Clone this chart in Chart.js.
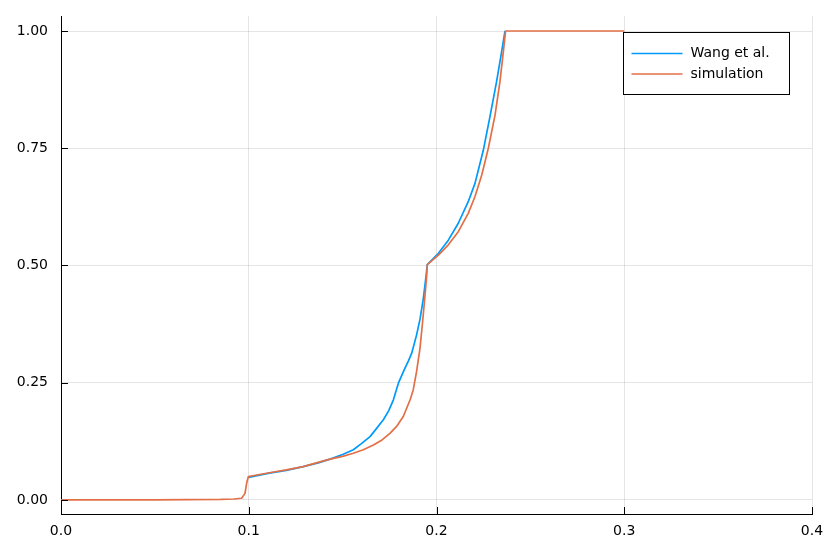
<!DOCTYPE html>
<html>
<head>
<meta charset="utf-8">
<script src="https://cdn.jsdelivr.net/npm/chart.js@4"></script>
<style>
  html,body{margin:0;padding:0;background:#fff;}
  #wrap{width:830px;height:554px;position:relative;}
</style>
</head>
<body>
<div id="wrap"><canvas id="c"></canvas></div>
<script>
// ---------- DATA ----------
const seriesNames = ['Wang et al.', 'simulation'];
const seriesColors = ['#009AFA', '#E36F47'];

const wangX = [0.0998, 0.111, 0.12, 0.129, 0.137, 0.1433, 0.15, 0.1557, 0.16, 0.1646, 0.168, 0.1717, 0.1745, 0.177,
  0.1797, 0.1832, 0.185, 0.1868, 0.1894, 0.1912, 0.193, 0.1943, 0.1951,
  0.201, 0.2063, 0.2116, 0.2169, 0.2205, 0.2249, 0.2285, 0.232, 0.2347, 0.2365];
const wangY = [0.048, 0.057, 0.063, 0.071, 0.079, 0.087, 0.097, 0.107, 0.12, 0.135, 0.152, 0.171, 0.19, 0.213,
  0.249, 0.281, 0.296, 0.313, 0.352, 0.385, 0.43, 0.473, 0.502,
  0.526, 0.554, 0.59, 0.636, 0.675, 0.745, 0.818, 0.892, 0.956, 1.0];

const simX = [0, 0.05, 0.085, 0.092, 0.0962, 0.098, 0.0989, 0.0998, 0.111, 0.12, 0.129, 0.136, 0.1433, 0.15, 0.1557,
  0.161, 0.1664, 0.171, 0.1752, 0.179, 0.1823, 0.1859, 0.1876, 0.1894, 0.1912, 0.1926, 0.1939, 0.1948, 0.1951,
  0.201, 0.2063, 0.2116, 0.2169, 0.2205, 0.2241, 0.2276, 0.2312, 0.2338, 0.2356, 0.2368, 0.3];
const simY = [0, 0, 0.001, 0.002, 0.0036, 0.014, 0.036, 0.05, 0.058, 0.064, 0.071, 0.079, 0.087, 0.093, 0.0995,
  0.107, 0.117, 0.128, 0.142, 0.158, 0.178, 0.213, 0.2345, 0.274, 0.323, 0.38, 0.437, 0.48, 0.502,
  0.522, 0.544, 0.572, 0.611, 0.647, 0.693, 0.75, 0.821, 0.892, 0.956, 1.0, 1.0];

const xTicks = [0, 0.1, 0.2, 0.3, 0.4];
const yTicks = [0, 0.25, 0.5, 0.75, 1.0];

const FONT = 'DejaVu Sans';

const toPts = (xs, ys) => xs.map((x, i) => ({x: x, y: ys[i]}));

// inward tick marks + legend box (Plots.jl look)
const decor = {
  id: 'decor',
  afterDraw(chart){
    const {ctx, chartArea: a, scales: {x, y}} = chart;
    ctx.save();
    ctx.strokeStyle = '#000';
    ctx.lineWidth = 1;
    ctx.beginPath();
    yTicks.forEach(v => { const p = Math.round(y.getPixelForValue(v)) + 0.5; ctx.moveTo(a.left, p); ctx.lineTo(a.left + 7, p); });
    xTicks.forEach(v => { const p = Math.round(x.getPixelForValue(v)) + 0.5; ctx.moveTo(p, a.bottom); ctx.lineTo(p, a.bottom - 7); });
    ctx.stroke();

    // legend
    const bx = a.right - 188.5, by = a.top + 16.5, bw = 166, bh = 62;
    ctx.fillStyle = '#fff';
    ctx.fillRect(bx, by, bw, bh);
    ctx.strokeStyle = '#000';
    ctx.strokeRect(bx, by, bw, bh);
    ctx.font = '14px "' + FONT + '"';
    ctx.textBaseline = 'middle';
    seriesNames.forEach((name, i) => {
      const ly = by + 21 + i * 20.5;
      ctx.strokeStyle = seriesColors[i];
      ctx.lineWidth = 1.6;
      ctx.beginPath(); ctx.moveTo(bx + 8, ly); ctx.lineTo(bx + 59, ly); ctx.stroke();
      ctx.fillStyle = '#000';
      ctx.fillText(name, bx + 67, ly);
    });
    ctx.restore();
  }
};

new Chart(document.getElementById('c').getContext('2d'), {
  type: 'scatter',
  data: {
    datasets: [
      {label: seriesNames[0], data: toPts(wangX, wangY), borderColor: seriesColors[0], backgroundColor: seriesColors[0], order: 1},
      {label: seriesNames[1], data: toPts(simX, simY), borderColor: seriesColors[1], backgroundColor: seriesColors[1], order: 0}
    ].map(d => Object.assign(d, {showLine: true, pointRadius: 0, borderWidth: 1.7, tension: 0, borderJoinStyle: 'round'}))
  },
  options: {
    responsive: true,
    maintainAspectRatio: false,
    animation: false,
    layout: {padding: {top: 16, right: 18, left: 0, bottom: 0}},
    plugins: {legend: {display: false}, tooltip: {enabled: false}},
    scales: {
      x: {
        type: 'linear', min: 0, max: 0.4,
        afterBuildTicks: s => { s.ticks = xTicks.map(v => ({value: v})); },
        afterFit: s => { s.height = 40; s.paddingLeft = 0; s.paddingRight = 0; },
        grid: {color: 'rgba(0,0,0,0.1)', drawTicks: false},
        border: {color: '#000', width: 1},
        ticks: {color: '#000', padding: 9, maxRotation: 0, font: {family: FONT, size: 14}, callback: v => v.toFixed(1)}
      },
      y: {
        type: 'linear', min: -0.03, max: 1.032,
        afterBuildTicks: s => { s.ticks = yTicks.map(v => ({value: v})); },
        afterFit: s => { s.width = 61; s.paddingTop = 0; s.paddingBottom = 0; },
        grid: {color: 'rgba(0,0,0,0.1)', drawTicks: false},
        border: {color: '#000', width: 1},
        ticks: {color: '#000', padding: 13, font: {family: FONT, size: 14}, callback: v => v.toFixed(2)}
      }
    }
  },
  plugins: [decor]
});
</script>
</body>
</html>
